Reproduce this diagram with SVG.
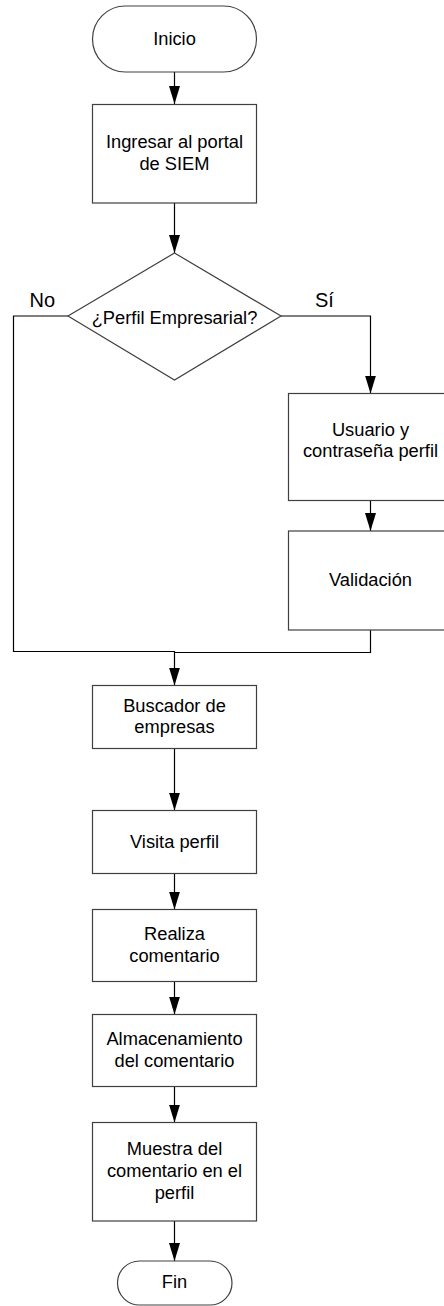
<svg xmlns="http://www.w3.org/2000/svg" width="444" height="1306" viewBox="0 0 444 1306">
<style>
.shape{fill:#ffffff;stroke:#404040;stroke-width:1.2}
.conn{fill:none;stroke:#000000;stroke-width:1.2}
.t{font-family:"Liberation Sans",Arial,sans-serif;font-size:18.3px;fill:#000000;text-anchor:middle}
.lbl{font-family:"Liberation Sans",Arial,sans-serif;font-size:20px;fill:#000000}
</style>
<defs>
<marker id="arr" markerUnits="userSpaceOnUse" markerWidth="18" markerHeight="11" refX="18" refY="5.5" orient="auto">
<path d="M0,0 L18,5.5 L0,11 z" fill="#000000"/>
</marker>
</defs>
<rect width="444" height="1306" fill="#ffffff"/>
<g id="connectors">
<path class="conn" d="M174.5,72 V104" marker-end="url(#arr)"/>
<path class="conn" d="M174.5,203 V253" marker-end="url(#arr)"/>
<path class="conn" d="M68,316 H13.5 V651.5 H174.5 V685.5" marker-end="url(#arr)"/>
<path class="conn" d="M281,316 H370.5 V393.5" marker-end="url(#arr)"/>
<path class="conn" d="M370.5,500.5 V531" marker-end="url(#arr)"/>
<path class="conn" d="M370.5,630 V652.5 H174.5"/>
<path class="conn" d="M174.5,748.5 V810.5" marker-end="url(#arr)"/>
<path class="conn" d="M174.5,873.5 V909.5" marker-end="url(#arr)"/>
<path class="conn" d="M174.5,981.5 V1014.5" marker-end="url(#arr)"/>
<path class="conn" d="M174.5,1086.5 V1122.5" marker-end="url(#arr)"/>
<path class="conn" d="M174.5,1221 V1261" marker-end="url(#arr)"/>
<text class="lbl" x="29.5" y="307">No</text>
<text class="lbl" x="315" y="307">Sí</text>
</g>
<g id="inicio">
<rect class="shape" x="92.5" y="6" width="164" height="66" rx="33" ry="33"/>
<text class="t" x="174.5" y="44.5">Inicio</text>
</g>
<g id="ingresar">
<rect class="shape" x="92.5" y="104.5" width="164" height="98.5"/>
<text class="t" x="174.5" y="148">Ingresar al portal</text>
<text class="t" x="174.5" y="170">de SIEM</text>
</g>
<g id="decision">
<polygon class="shape" points="174.5,253 281,316 174.5,380 68,316"/>
<text class="t" x="174.5" y="324">¿Perfil Empresarial?</text>
</g>
<g id="usuario">
<rect class="shape" x="288.5" y="393.5" width="164" height="107"/>
<text class="t" x="370.5" y="435.7">Usuario y</text>
<text class="t" x="370.5" y="456.7">contraseña perfil</text>
</g>
<g id="validacion">
<rect class="shape" x="288.5" y="531" width="164" height="99"/>
<text class="t" x="370.5" y="586">Validación</text>
</g>
<g id="buscador">
<rect class="shape" x="92.5" y="685.5" width="164" height="63"/>
<text class="t" x="174.5" y="711.7">Buscador de</text>
<text class="t" x="174.5" y="733">empresas</text>
</g>
<g id="visita">
<rect class="shape" x="92.5" y="810.5" width="164" height="63"/>
<text class="t" x="174.5" y="848.3">Visita perfil</text>
</g>
<g id="realiza">
<rect class="shape" x="92.5" y="909.5" width="164" height="72"/>
<text class="t" x="174.5" y="940">Realiza</text>
<text class="t" x="174.5" y="961.7">comentario</text>
</g>
<g id="almacenamiento">
<rect class="shape" x="92.5" y="1014.5" width="164" height="72"/>
<text class="t" x="174.5" y="1045">Almacenamiento</text>
<text class="t" x="174.5" y="1066.7">del comentario</text>
</g>
<g id="muestra">
<rect class="shape" x="92.5" y="1122.5" width="164" height="98.5"/>
<text class="t" x="174.5" y="1155">Muestra del</text>
<text class="t" x="174.5" y="1177.3">comentario en el</text>
<text class="t" x="174.5" y="1199.3">perfil</text>
</g>
<g id="fin">
<rect class="shape" x="117.5" y="1261" width="114.5" height="44" rx="22" ry="22"/>
<text class="t" x="174.5" y="1288.3">Fin</text>
</g>
</svg>
